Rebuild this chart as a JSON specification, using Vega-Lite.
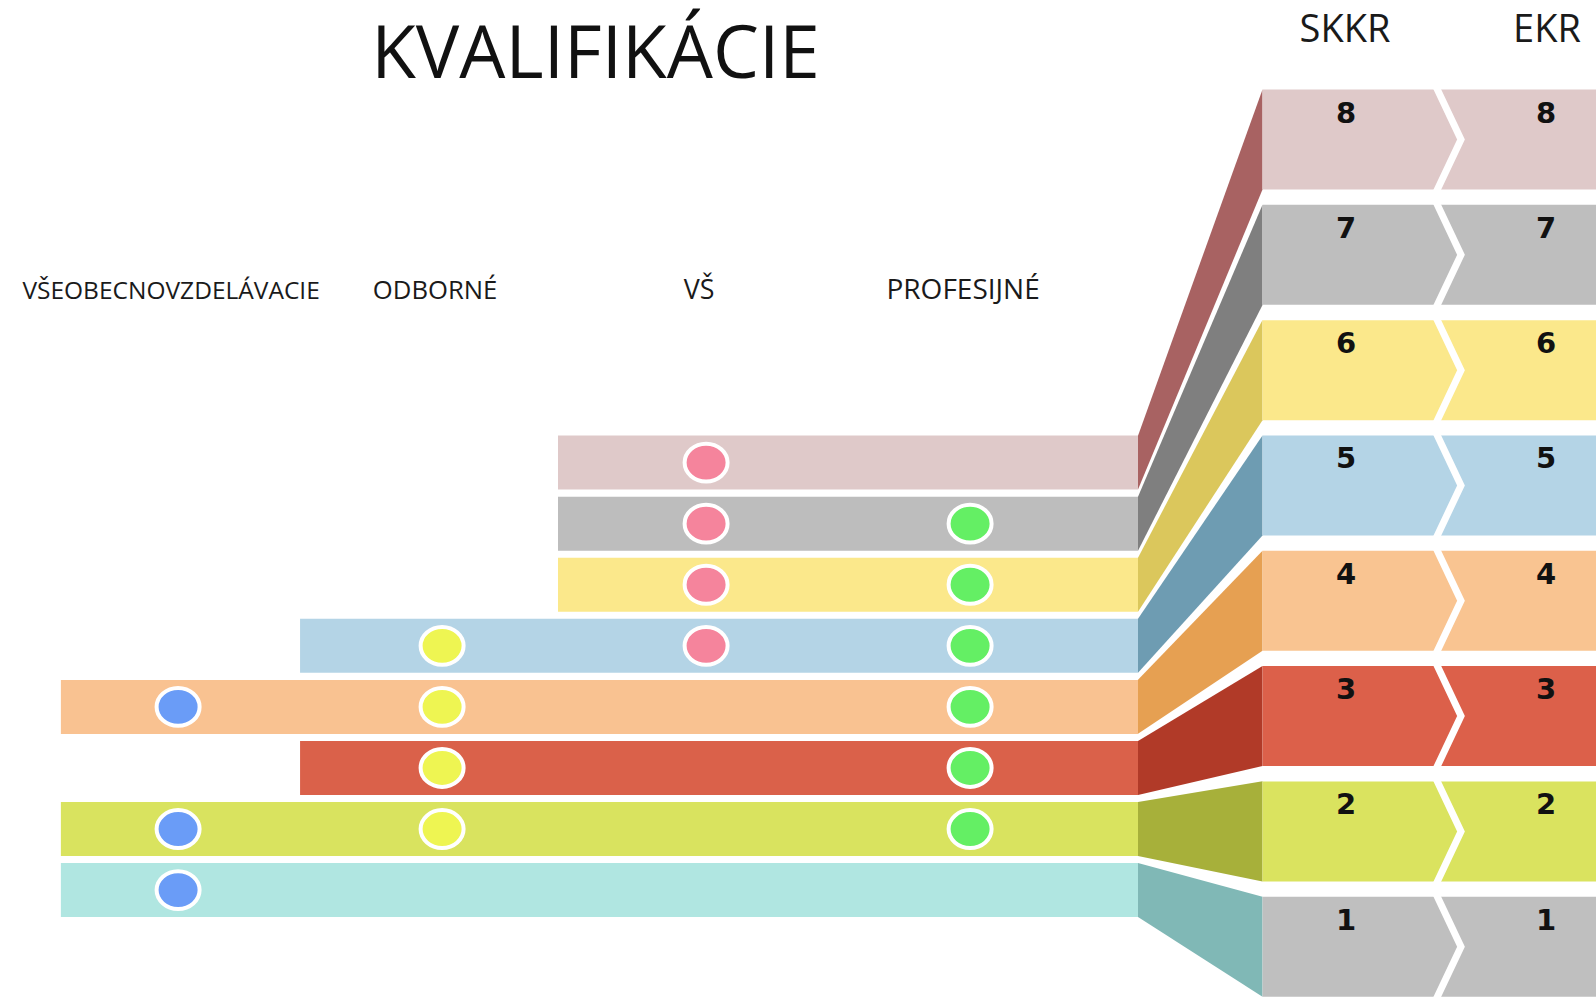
{
  "$schema": "https://vega.github.io/schema/vega-lite/v6.json",
  "width": 1596,
  "height": 998,
  "autosize": {"type": "none"},
  "padding": 0,
  "background": "white",
  "config": {"view": {"stroke": null}, "axis": {"disable": true}},
  "datasets": {
    "kvalifikacne_urovne": [
      {"uroven": 1, "zaciatok": 0.556, "koniec": 4.636},
      {"uroven": 2, "zaciatok": 0.556, "koniec": 4.636},
      {"uroven": 3, "zaciatok": 1.462, "koniec": 4.636},
      {"uroven": 4, "zaciatok": 0.556, "koniec": 4.636},
      {"uroven": 5, "zaciatok": 1.462, "koniec": 4.636},
      {"uroven": 6, "zaciatok": 2.439, "koniec": 4.636},
      {"uroven": 7, "zaciatok": 2.439, "koniec": 4.636},
      {"uroven": 8, "zaciatok": 2.439, "koniec": 4.636}
    ],
    "spojky": [
      {"uroven": 1, "strana": "kvalifikácia", "dolny": 1.257, "horny": 1.725},
      {"uroven": 1, "strana": "rámec", "dolny": 0.566, "horny": 1.434},
      {"uroven": 2, "strana": "kvalifikácia", "dolny": 1.787, "horny": 2.255},
      {"uroven": 2, "strana": "rámec", "dolny": 1.566, "horny": 2.434},
      {"uroven": 3, "strana": "kvalifikácia", "dolny": 2.316, "horny": 2.784},
      {"uroven": 3, "strana": "rámec", "dolny": 2.566, "horny": 3.434},
      {"uroven": 4, "strana": "kvalifikácia", "dolny": 2.846, "horny": 3.314},
      {"uroven": 4, "strana": "rámec", "dolny": 3.566, "horny": 4.434},
      {"uroven": 5, "strana": "kvalifikácia", "dolny": 3.375, "horny": 3.843},
      {"uroven": 5, "strana": "rámec", "dolny": 4.566, "horny": 5.434},
      {"uroven": 6, "strana": "kvalifikácia", "dolny": 3.905, "horny": 4.373},
      {"uroven": 6, "strana": "rámec", "dolny": 5.566, "horny": 6.434},
      {"uroven": 7, "strana": "kvalifikácia", "dolny": 4.434, "horny": 4.902},
      {"uroven": 7, "strana": "rámec", "dolny": 6.566, "horny": 7.434},
      {"uroven": 8, "strana": "kvalifikácia", "dolny": 4.964, "horny": 5.432},
      {"uroven": 8, "strana": "rámec", "dolny": 7.566, "horny": 8.434}
    ],
    "ramce": [
      {"uroven": 1, "SKKR": 1, "EKR": 1},
      {"uroven": 2, "SKKR": 2, "EKR": 2},
      {"uroven": 3, "SKKR": 3, "EKR": 3},
      {"uroven": 4, "SKKR": 4, "EKR": 4},
      {"uroven": 5, "SKKR": 5, "EKR": 5},
      {"uroven": 6, "SKKR": 6, "EKR": 6},
      {"uroven": 7, "SKKR": 7, "EKR": 7},
      {"uroven": 8, "SKKR": 8, "EKR": 8}
    ],
    "kvalifikacie": [
      {"kvalifikacia": "VŠEOBECNOVZDELÁVACIE"},
      {"kvalifikacia": "ODBORNÉ"},
      {"kvalifikacia": "VŠ"},
      {"kvalifikacia": "PROFESIJNÉ"}
    ],
    "bodky": [
      {"uroven": 8, "kvalifikacia": "VŠ"},
      {"uroven": 7, "kvalifikacia": "VŠ"},
      {"uroven": 7, "kvalifikacia": "PROFESIJNÉ"},
      {"uroven": 6, "kvalifikacia": "VŠ"},
      {"uroven": 6, "kvalifikacia": "PROFESIJNÉ"},
      {"uroven": 5, "kvalifikacia": "ODBORNÉ"},
      {"uroven": 5, "kvalifikacia": "VŠ"},
      {"uroven": 5, "kvalifikacia": "PROFESIJNÉ"},
      {"uroven": 4, "kvalifikacia": "VŠEOBECNOVZDELÁVACIE"},
      {"uroven": 4, "kvalifikacia": "ODBORNÉ"},
      {"uroven": 4, "kvalifikacia": "PROFESIJNÉ"},
      {"uroven": 3, "kvalifikacia": "ODBORNÉ"},
      {"uroven": 3, "kvalifikacia": "PROFESIJNÉ"},
      {"uroven": 2, "kvalifikacia": "VŠEOBECNOVZDELÁVACIE"},
      {"uroven": 2, "kvalifikacia": "ODBORNÉ"},
      {"uroven": 2, "kvalifikacia": "PROFESIJNÉ"},
      {"uroven": 1, "kvalifikacia": "VŠEOBECNOVZDELÁVACIE"}
    ]
  },
  "layer": [
    {
      "data": {"name": "kvalifikacne_urovne"},
      "mark": {"type": "rule", "strokeWidth": 54, "strokeCap": "butt"},
      "encoding": {
        "x": {"field": "zaciatok", "type": "quantitative", "scale": {"domain": [0.3254, 6.3708], "nice": false, "zero": false}, "axis": null},
        "x2": {"field": "koniec"},
        "y": {"field": "uroven", "type": "quantitative", "scale": {"domain": [-0.7668, 15.575], "nice": false, "zero": false}, "axis": null},
        "color": {"field": "uroven", "type": "ordinal", "scale": {"domain": [1, 2, 3, 4, 5, 6, 7, 8], "range": ["#b0e6e1", "#d9e35f", "#da614a", "#f9c291", "#b4d4e6", "#fbe88b", "#bdbdbd", "#dfc9c9"]}, "legend": null}
      }
    },
    {
      "data": {"name": "spojky"},
      "mark": {"type": "area", "opacity": 1},
      "encoding": {
        "x": {"field": "strana", "type": "ordinal", "scale": {"type": "point", "domain": ["kvalifikácia", "rámec"], "range": [1138, 1262.5], "padding": 0}, "axis": null},
        "y": {"field": "dolny", "type": "quantitative", "scale": {"domain": [0.5551, 9.21], "nice": false, "zero": false}, "axis": null},
        "y2": {"field": "horny"},
        "color": {"field": "uroven", "type": "ordinal", "scale": {"domain": [1, 2, 3, 4, 5, 6, 7, 8], "range": ["#80b8b6", "#a7b03a", "#b13a28", "#e6a052", "#6e9cb2", "#dbc75c", "#7f7f7f", "#a86262"]}, "legend": null}
      }
    },
    {
      "data": {"name": "ramce"},
      "mark": {"type": "rule", "strokeWidth": 100, "strokeCap": "butt"},
      "encoding": {
        "x": {"datum": 5.1076, "type": "quantitative", "scale": {"domain": [0.3254, 6.3708], "nice": false, "zero": false}, "axis": null},
        "x2": {"datum": 6.45},
        "y": {"field": "uroven", "type": "quantitative", "scale": {"domain": [0.5551, 9.21], "nice": false, "zero": false}, "axis": null},
        "color": {"field": "uroven", "type": "ordinal", "scale": {"domain": [1, 2, 3, 4, 5, 6, 7, 8], "range": ["#bfbfbf", "#dae35f", "#dc604a", "#f9c491", "#b4d4e6", "#fbe88b", "#bebebe", "#dfc9c9"]}, "legend": null}
      }
    },
    {
      "data": {"name": "ramce"},
      "mark": {"type": "point", "shape": "M-0.26,-1.1L0.26,0L-0.26,1.1", "filled": false, "stroke": "white", "strokeWidth": 7, "opacity": 1, "strokeJoin": "miter", "size": 10000},
      "encoding": {
        "x": {"datum": 5.8102, "type": "quantitative", "scale": {"domain": [0.3254, 6.3708], "nice": false, "zero": false}, "axis": null},
        "y": {"field": "uroven", "type": "quantitative", "scale": {"domain": [0.5551, 9.21], "nice": false, "zero": false}, "axis": null}
      }
    },
    {
      "data": {"name": "ramce"},
      "transform": [{"fold": ["SKKR", "EKR"], "as": ["ramec", "cislo"]}],
      "mark": {"type": "text", "font": "DejaVu Sans", "fontWeight": "bold", "fontSize": 29, "color": "#111111", "align": "center", "baseline": "middle", "dy": -26},
      "encoding": {
        "x": {"field": "ramec", "type": "nominal", "scale": {"type": "point", "domain": ["SKKR", "EKR"], "range": [1346, 1546], "padding": 0}, "axis": null},
        "y": {"field": "uroven", "type": "quantitative", "scale": {"domain": [0.5551, 9.21], "nice": false, "zero": false}, "axis": null},
        "text": {"field": "cislo", "type": "nominal"}
      }
    },
    {
      "data": {"values": [{"ramec": "SKKR"}, {"ramec": "EKR"}]},
      "mark": {"type": "text", "font": "Open Sans", "fontSize": 38, "fontWeight": 500, "color": "#1a1a1a", "align": "center", "baseline": "alphabetic"},
      "encoding": {
        "x": {"field": "ramec", "type": "nominal", "scale": {"type": "point", "domain": ["SKKR", "EKR"], "range": [1345, 1547], "padding": 0}, "axis": null},
        "y": {"datum": 8.846, "type": "quantitative", "scale": {"domain": [0.5551, 9.21], "nice": false, "zero": false}, "axis": null},
        "text": {"field": "ramec", "type": "nominal"}
      }
    },
    {
      "data": {"values": [{"nadpis": "KVALIFIKÁCIE"}]},
      "mark": {"type": "text", "font": "Open Sans", "fontSize": 73, "fontWeight": 500, "color": "#111111", "align": "center", "baseline": "alphabetic"},
      "encoding": {
        "x": {"datum": 2.5811, "type": "quantitative", "scale": {"domain": [0.3254, 6.3708], "nice": false, "zero": false}, "axis": null},
        "y": {"datum": 8.53, "type": "quantitative", "scale": {"domain": [0.5551, 9.21], "nice": false, "zero": false}, "axis": null},
        "text": {"field": "nadpis", "type": "nominal"}
      }
    },
    {
      "data": {"name": "kvalifikacie"},
      "mark": {"type": "text", "font": "Open Sans", "fontWeight": 500, "color": "#1a1a1a", "align": "center", "baseline": "alphabetic", "dx": -7},
      "encoding": {
        "x": {"field": "kvalifikacia", "type": "nominal", "scale": {"type": "point", "domain": ["VŠEOBECNOVZDELÁVACIE", "ODBORNÉ", "VŠ", "PROFESIJNÉ"], "range": [178.1, 970.1], "padding": 0}, "axis": null},
        "y": {"datum": 10.674, "type": "quantitative", "scale": {"domain": [-0.7668, 15.575], "nice": false, "zero": false}, "axis": null},
        "text": {"field": "kvalifikacia", "type": "nominal"},
        "size": {"field": "kvalifikacia", "type": "ordinal", "scale": {"domain": ["VŠEOBECNOVZDELÁVACIE", "ODBORNÉ", "VŠ", "PROFESIJNÉ"], "range": [24.5, 28, 28, 28]}, "legend": null}
      }
    },
    {
      "data": {"name": "bodky"},
      "mark": {"type": "point", "shape": "M-1,0A1,0.88,0,1,0,1,0A1,0.88,0,1,0,-1,0Z", "filled": true, "opacity": 1, "stroke": "white", "strokeWidth": 4, "size": 1849},
      "encoding": {
        "x": {"field": "kvalifikacia", "type": "nominal", "scale": {"type": "point", "domain": ["VŠEOBECNOVZDELÁVACIE", "ODBORNÉ", "VŠ", "PROFESIJNÉ"], "range": [178.1, 970.1], "padding": 0}, "axis": null},
        "y": {"field": "uroven", "type": "quantitative", "scale": {"domain": [-0.7668, 15.575], "nice": false, "zero": false}, "axis": null},
        "color": {"field": "kvalifikacia", "type": "nominal", "scale": {"domain": ["VŠEOBECNOVZDELÁVACIE", "ODBORNÉ", "VŠ", "PROFESIJNÉ"], "range": ["#6a9cf7", "#eef552", "#f5849c", "#64ef64"]}, "legend": null}
      }
    }
  ],
  "resolve": {"scale": {"x": "independent", "y": "independent", "color": "independent", "size": "independent"}}
}
